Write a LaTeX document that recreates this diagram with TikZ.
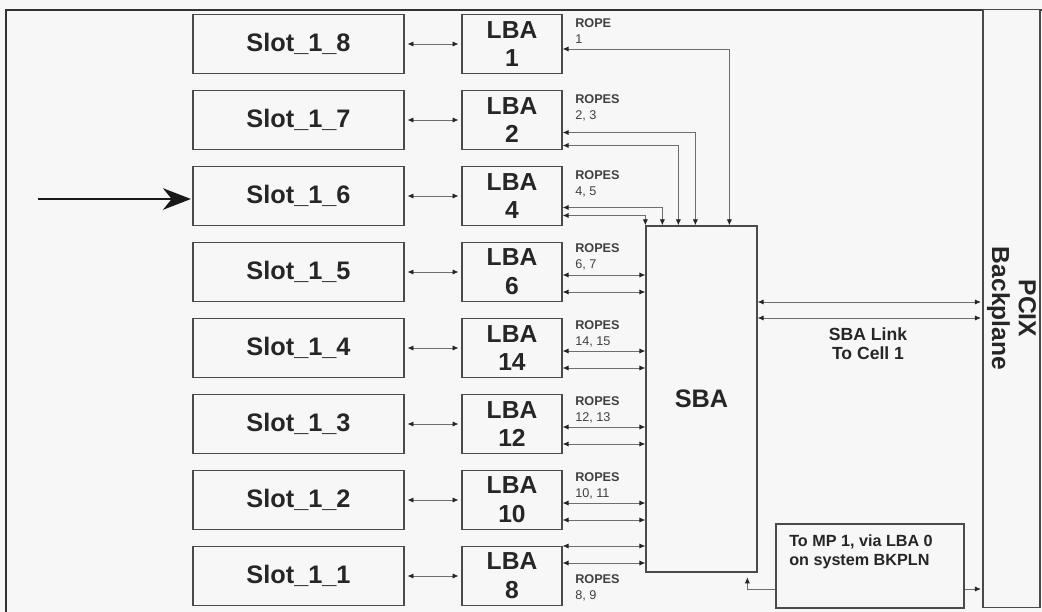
\documentclass[tikz,border=0pt]{standalone}
\usepackage{fontspec}
\setmainfont{Liberation Sans}
\usetikzlibrary{positioning,arrows.meta,calc}
\definecolor{boxline}{HTML}{4A4A4A}
\definecolor{wire}{HTML}{6E6E6E}
\definecolor{paper}{HTML}{F7F7F7}

\begin{document}
\begin{tikzpicture}[
  x=0.025cm, y=-0.025cm,
  >={Latex[length=1.5mm,width=1.3mm,color=black!85]},
  %--- boxes ---
  slotbox/.style={draw=boxline,line width=0.9pt,fill=paper,text=black!85,
                  minimum width=5.275cm,minimum height=1.475cm,inner sep=0pt,
                  font=\fontsize{18}{20}\selectfont\bfseries},
  lbabox/.style ={draw=boxline,line width=0.9pt,fill=paper,text=black!85,
                  minimum width=2.5cm,minimum height=1.475cm,inner sep=0pt,
                  align=center,font=\fontsize{17.5}{20.5}\selectfont\bfseries},
  sbabox/.style ={draw=boxline,line width=0.9pt,fill=paper,text=black!85,
                  minimum width=2.775cm,minimum height=8.65cm,inner sep=0pt,
                  font=\fontsize{18}{20}\selectfont\bfseries},
  mpbox/.style  ={draw=boxline,line width=0.9pt,fill=paper,
                  minimum width=4.7cm,minimum height=2.1cm,inner sep=0pt},
  pcibox/.style ={draw=boxline,line width=0.9pt,fill=paper,
                  minimum width=1.425cm,minimum height=14.95cm,inner sep=0pt},
  %--- texts ---
  ropes/.style  ={anchor=north west,align=left,inner sep=0pt,text=black!75,
                  font=\fontsize{9}{12}\selectfont},
  linktext/.style={align=center,inner sep=0pt,text=black!85,
                  font=\fontsize{12.5}{13.5}\selectfont\bfseries},
  mptext/.style ={anchor=north west,align=left,inner sep=0pt,text=black!85,
                  font=\fontsize{11.5}{14}\selectfont\bfseries},
  %--- connectors ---
  link/.style   ={<->,line width=0.6pt,draw=wire},
  feed/.style   ={->,line width=0.6pt,draw=wire},
  inarrow/.style={-{Stealth[length=7mm,width=5.4mm,inset=2.2mm]},line width=1.6pt,draw=black!90},
  frame/.style  ={line width=1.2pt,draw=black!80},
]

\useasboundingbox[fill=paper] (0,0) rectangle (1042,612);

%==================== outer frame ====================
\draw[frame] (6,612) -- (6,10) -- (1042,10);

%==================== slots and LBAs ====================
\foreach \sl/\lb [count=\i from 0] in {8/1,7/2,6/4,5/6,4/14,3/12,2/10,1/8}{
  \node[slotbox] (slot\sl) at (298.5,44+76*\i) {Slot\_1\_\sl};
  \node[lbabox]  (lba\lb)  at (512,44+76*\i) {LBA\\\lb};
  \draw[link,shorten <=2pt,shorten >=2pt] (slot\sl) -- (lba\lb);
}

%==================== SBA, MP box, backplane ====================
\node[sbabox] (sba) at (701.5,399) {SBA};
\node[mpbox]  (mp)  at (870,566) {};
\node[mptext] (mptxt) at (789,534) {To MP 1, via LBA 0\\on system BKPLN};
\node[pcibox,label={[rotate=-90,align=center,inner sep=0pt,text=black!85,
      font=\fontsize{17.5}{19}\selectfont\bfseries]center:PCIX\\Backplane}]
  (pcix) at (1011.5,308.5) {};

%==================== rope labels ====================
\node[ropes] (r1)  at (575,18)  {\textbf{ROPE}\\1};
\node[ropes] (r2)  at (575,94)  {\textbf{ROPES}\\2, 3};
\node[ropes] (r4)  at (575,170) {\textbf{ROPES}\\4, 5};
\node[ropes] (r6)  at (575,243) {\textbf{ROPES}\\6, 7};
\node[ropes] (r14) at (575,320) {\textbf{ROPES}\\14, 15};
\node[ropes] (r12) at (575,396) {\textbf{ROPES}\\12, 13};
\node[ropes] (r10) at (575,472) {\textbf{ROPES}\\10, 11};
\node[ropes] (r8)  at (575,574) {\textbf{ROPES}\\8, 9};

%==================== ropes into the top of SBA ====================
\draw[link] ($(lba1.east)+(0,5)$)    -| ($(sba.north west)+(84,0)$);
\draw[link] ($(lba2.east)+(0,12.5)$) -| ($(sba.north west)+(50,0)$);
\draw[link] ($(lba2.east)+(0,25.5)$) -| ($(sba.north west)+(33,0)$);
\draw[link] ($(lba4.east)+(0,11.5)$) -| ($(sba.north west)+(17,0)$);
\draw[link] ($(lba4.east)+(0,19.5)$) -| (sba.north west);

%==================== ropes into the side of SBA ====================
\foreach \lb/\da/\db in {6/3/20,14/3/20,12/3/20,10/3/20,8/-30/-13}{
  \coordinate (ra) at ($(lba\lb.east)+(0,\da)$);
  \coordinate (rb) at ($(lba\lb.east)+(0,\db)$);
  \draw[link] (ra) -- (ra -| sba.west);
  \draw[link] (rb) -- (rb -| sba.west);
}

%==================== SBA link to cell 1 ====================
\coordinate (ka) at ($(sba.east)+(0,-97)$);
\coordinate (kb) at ($(sba.east)+(0,-81)$);
\draw[link,shorten >=1pt] (ka) -- (ka -| pcix.west);
\draw[link,shorten >=1pt] (kb) -- (kb -| pcix.west);
\node[linktext] (lnk) at (868,344) {SBA Link\\To Cell 1};

%==================== MP path ====================
\coordinate (mw) at ($(mp.west)+(0,23)$);
\coordinate (me) at ($(mp.east)+(0,23)$);
\draw[feed,shorten >=-1pt] (mw) -| ($(sba.south west)+(102,6)$);
\draw[feed,shorten >=1pt] (me) -- (me -| pcix.west);

%==================== incoming arrow ====================
\coordinate (src) at (38,199);
\draw[inarrow,shorten >=1pt] (src) -- (src -| slot6.west);

\end{tikzpicture}
\end{document}
